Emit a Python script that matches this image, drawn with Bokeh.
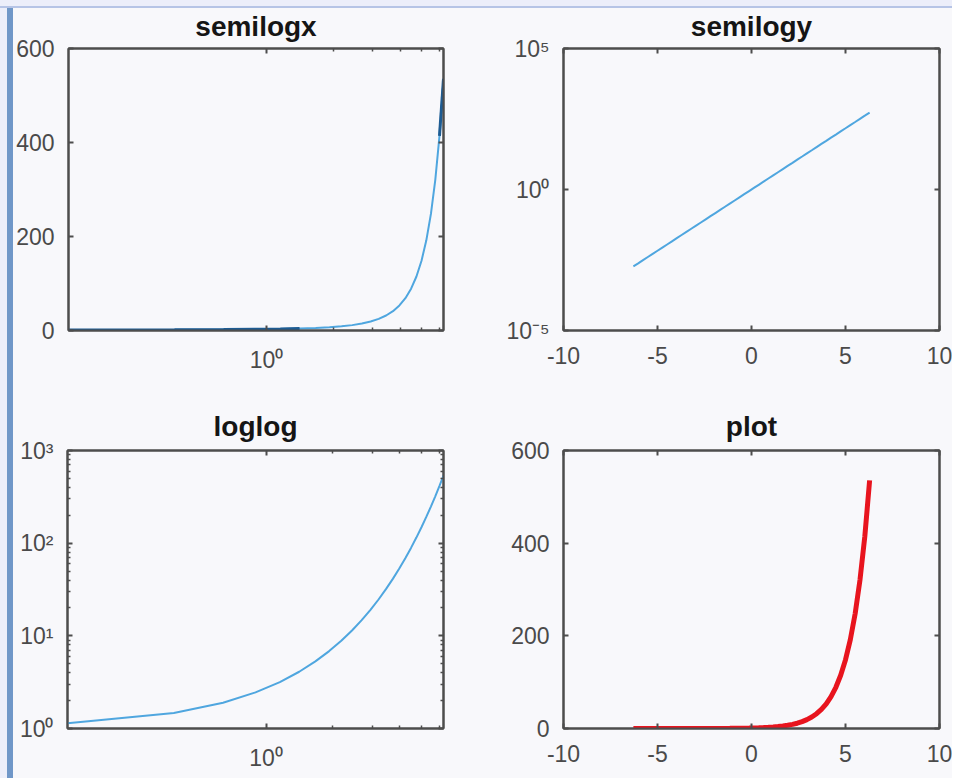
from bokeh.plotting import figure
from bokeh.models import (Range1d, LinearAxis, LogAxis, FixedTicker,
                          CustomJSTickFormatter, Div)
from bokeh.layouts import row, column
from bokeh.embed import file_html
from bokeh.resources import INLINE

x_vals = [-6.283, -6.027, -5.770, -5.514, -5.257, -5.001, -4.744, -4.488, -4.231, -3.975,
          -3.718, -3.462, -3.206, -2.949, -2.693, -2.436, -2.180, -1.923, -1.667, -1.410,
          -1.154, -0.897, -0.641, -0.385, -0.128, 0.128, 0.385, 0.641, 0.897, 1.154,
          1.410, 1.667, 1.923, 2.180, 2.436, 2.693, 2.949, 3.206, 3.462, 3.718,
          3.975, 4.231, 4.488, 4.744, 5.001, 5.257, 5.514, 5.770, 6.027, 6.283]
y_vals = [0.00187, 0.00241, 0.00312, 0.00403, 0.00521, 0.00673, 0.00870, 0.01124, 0.01453, 0.01878,
          0.02428, 0.03137, 0.04055, 0.05241, 0.06773, 0.08754, 0.1131, 0.1462, 0.1889, 0.2442,
          0.3155, 0.4078, 0.5270, 0.6809, 0.8799, 1.1365, 1.469, 1.898, 2.453, 3.170,
          4.097, 5.295, 6.843, 8.843, 11.43, 14.77, 19.09, 24.67, 31.88, 41.20,
          53.24, 68.81, 88.92, 114.9, 148.5, 191.9, 248.0, 320.5, 414.2, 535.5]

titles = ["semilogx", "semilogy", "loglog", "plot"]
lin_x_ticks = [-10, -5, 0, 5, 10]
lin_y_ticks = [0, 200, 400, 600]
logx_major = [1]
logx_minor = [2, 3, 4, 5, 6]
semilogy_major = [1e-5, 1, 1e5]
loglog_y_major = [1, 10, 100, 1000]
loglog_y_minor = [2, 3, 4, 5, 6, 7, 8, 9, 20, 30, 40, 50, 60, 70, 80, 90,
                  200, 300, 400, 500, 600, 700, 800, 900]

pos_x = [v for v in x_vals if v > 0]
pos_y = [y for v, y in zip(x_vals, y_vals) if v > 0]

BG = "#f8f8fb"
OUTER = "#eceefa"
EDGE = "#b6c4e6"
AX = "#4d4d4d"
LBL = "#4a4a4a"
FONT = "Liberation Sans"
LIGHT = "#4fa6df"
DARK = "#1d5b92"
RED = "#e8141e"

TOP_BG = "linear-gradient(to bottom, %s 0px, %s 6px, %s 6px, %s 8px, %s 8px)" % (OUTER, OUTER, EDGE, EDGE, BG)

sup_fmt = CustomJSTickFormatter(code="""
const sup = {'0':'\u2070','1':'\u00b9','2':'\u00b2','3':'\u00b3','4':'\u2074','5':'\u2075',
             '6':'\u2076','7':'\u2077','8':'\u2078','9':'\u2079','-':'\u207b'};
const e = Math.round(Math.log10(tick));
return '10' + String(e).split('').map(c => sup[c]).join('');
""")
lin_fmt = CustomJSTickFormatter(code="return String(tick);")
blank_fmt = CustomJSTickFormatter(code="return '';")


def style_axis(ax, labels=True, standoff=14):
    ax.axis_line_color = AX
    ax.axis_line_width = 2
    ax.major_tick_line_color = AX
    ax.minor_tick_line_color = AX
    ax.major_tick_line_width = 2
    ax.minor_tick_line_width = 1.5
    ax.major_tick_in = 5
    ax.major_tick_out = 0
    ax.minor_tick_in = 3
    ax.minor_tick_out = 0
    if labels:
        ax.major_label_text_font = FONT
        ax.major_label_text_font_size = "23px"
        ax.major_label_text_color = LBL
        ax.major_label_standoff = standoff
    else:
        ax.formatter = blank_fmt
        ax.major_label_text_font_size = "0px"
        ax.major_label_standoff = 0


def make_fig(title, title_standoff, w, h, bl, br, bt, bb, xtype, ytype, xr, yr,
             xticker, yticker, xlog_fmt, ylog_fmt, top_row):
    p = figure(width=w, height=h, x_axis_type=xtype, y_axis_type=ytype,
               x_range=xr, y_range=yr, title=title,
               output_backend="svg", toolbar_location=None, margin=0,
               min_border_left=bl, min_border_right=br, min_border_top=bt, min_border_bottom=bb)
    p.background_fill_color = BG
    if top_row:
        p.border_fill_color = None
        p.styles = {"background": TOP_BG}
    else:
        p.border_fill_color = BG
        p.styles = {"background": BG}
    p.outline_line_color = AX
    p.outline_line_width = 2
    p.xgrid.visible = False
    p.ygrid.visible = False
    p.title.align = "center"
    p.title.text_font = FONT
    p.title.text_font_size = "28px"
    p.title.text_font_style = "bold"
    p.title.text_color = "#151515"
    p.title.standoff = title_standoff

    p.xaxis.ticker = xticker
    p.yaxis.ticker = yticker
    p.xaxis.formatter = sup_fmt if xlog_fmt else lin_fmt
    p.yaxis.formatter = sup_fmt if ylog_fmt else lin_fmt
    for ax in p.xaxis:
        style_axis(ax, True, 16)
    for ax in p.yaxis:
        style_axis(ax, True, 14)

    top = LogAxis(ticker=xticker) if xtype == "log" else LinearAxis(ticker=xticker)
    right = LogAxis(ticker=yticker) if ytype == "log" else LinearAxis(ticker=yticker)
    style_axis(top, False)
    style_axis(right, False)
    p.add_layout(top, "above")
    p.add_layout(right, "right")
    return p


# --- semilogx ---
p1 = make_fig(titles[0], 13, 475, 385, 54, 45, 48, 55, "log", "linear",
              Range1d(0.128, 6.283), Range1d(0, 600),
              FixedTicker(ticks=logx_major, minor_ticks=logx_minor),
              FixedTicker(ticks=lin_y_ticks, minor_ticks=[]), True, False, True)
p1.line(pos_x, pos_y, line_color=LIGHT, line_width=2)
p1.line(pos_x[:6], pos_y[:6], line_color=DARK, line_width=3)
p1.line(pos_x[-2:], pos_y[-2:], line_color=DARK, line_width=3)

# --- semilogy ---
p2 = make_fig(titles[1], 13, 464, 385, 75, 13, 48, 55, "linear", "log",
              Range1d(-10, 10), Range1d(1e-5, 1e5),
              FixedTicker(ticks=lin_x_ticks, minor_ticks=[]),
              FixedTicker(ticks=semilogy_major, minor_ticks=[]), False, True, True)
p2.line(x_vals, y_vals, line_color=LIGHT, line_width=2)

# --- loglog ---
p3 = make_fig(titles[2], 17, 475, 393, 54, 45, 65, 50, "log", "log",
              Range1d(0.128, 6.283), Range1d(1, 1000),
              FixedTicker(ticks=logx_major, minor_ticks=logx_minor),
              FixedTicker(ticks=loglog_y_major, minor_ticks=loglog_y_minor), True, True, False)
p3.line(pos_x, pos_y, line_color=LIGHT, line_width=2)

# --- plot ---
p4 = make_fig(titles[3], 17, 464, 393, 75, 13, 65, 50, "linear", "linear",
              Range1d(-10, 10), Range1d(0, 600),
              FixedTicker(ticks=lin_x_ticks, minor_ticks=[]),
              FixedTicker(ticks=lin_y_ticks, minor_ticks=[]), False, False, False)
p4.line(x_vals, y_vals, line_color=RED, line_width=5)

leftband = Div(text="", width=13, height=778, margin=0,
               styles={"background": "linear-gradient(to bottom, %s 0px, %s 6px, %s 6px, %s 8px, transparent 8px), "
                                     "linear-gradient(to right, %s 0px, %s 7px, #7097c8 7px, #7097c8 13px)"
                                     % (OUTER, OUTER, EDGE, EDGE, OUTER, OUTER)})
top_row = row(p1, p2, spacing=0, styles={"background": BG})
bottom_row = row(p3, p4, spacing=0, styles={"background": BG})
grid = column(top_row, bottom_row, spacing=0, styles={"background": BG})
layout = row(leftband, grid, spacing=0)

open("out.html", "w").write(file_html(layout, INLINE))
